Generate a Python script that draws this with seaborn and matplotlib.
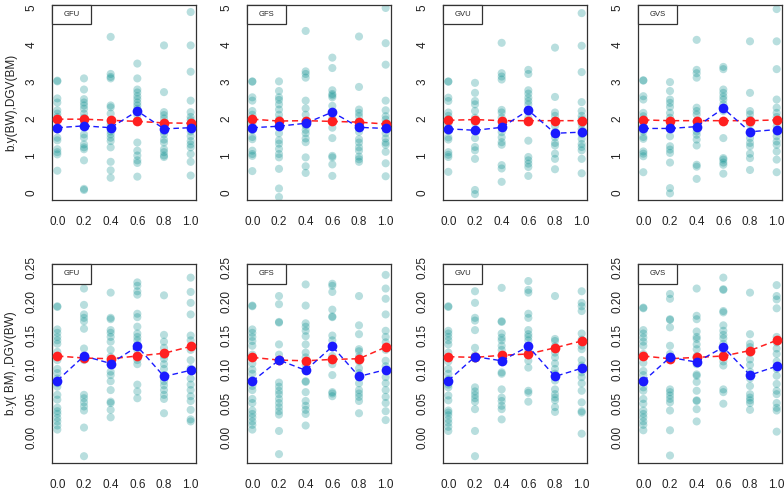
import matplotlib
matplotlib.use("Agg")
import matplotlib.pyplot as plt
import seaborn as sns
import pandas as pd

sns.set_style("white")
plt.rcParams['font.family'] = ['Liberation Sans', 'DejaVu Sans']

x_groups = [0.0, 0.2, 0.4, 0.6, 0.8, 1.0]
x_ticklabels = ["0.0", "0.2", "0.4", "0.6", "0.8", "1.0"]
panel_names = ["GFU", "GFS", "GVU", "GVS"]
ylabel_top = "b.y(BW),DGV(BM)"
ylabel_bottom = "b.y( BM) ,DGV(BW)"
yticks_top = [0, 1, 2, 3, 4, 5]
yticks_bottom = [0.00, 0.05, 0.10, 0.15, 0.20, 0.25]
ytl_top = ["0", "1", "2", "3", "4", "5"]
ytl_bottom = ["0.00", "0.05", "0.10", "0.15", "0.20", "0.25"]

# ---- top row (BW) scatter values per x group ----
gfu_top = [
    [3.02, 3.0, 2.54, 2.43, 2.22, 2.13, 2.04, 1.95, 1.70, 1.48, 1.41, 1.17, 1.09, 1.03, 0.59],
    [3.08, 2.78, 2.52, 2.43, 2.35, 2.26, 2.13, 2.02, 1.87, 1.57, 1.48, 1.30, 1.22, 1.17, 0.87, 0.10, 0.07],
    [4.20, 3.20, 3.12, 3.08, 2.35, 2.30, 2.13, 1.91, 1.83, 1.74, 1.65, 1.57, 1.48, 1.39, 1.22, 0.83, 0.60, 0.40],
    [3.48, 3.08, 2.78, 2.70, 2.60, 2.52, 2.43, 2.35, 2.26, 2.09, 1.35, 1.13, 1.00, 0.87, 0.80, 0.43],
    [3.97, 2.71, 2.17, 2.09, 2.00, 1.87, 1.65, 1.57, 1.43, 1.35, 1.17, 1.09, 1.00, 0.96],
    [4.87, 3.97, 3.26, 2.48, 2.17, 2.04, 1.96, 1.87, 1.78, 1.65, 1.52, 1.39, 1.30, 1.22, 1.04, 0.83, 0.46],
]
gfs_top = [
    [3.0, 2.99, 2.57, 2.48, 2.20, 2.10, 2.00, 1.87, 1.68, 1.50, 1.44, 1.13, 1.04, 0.99, 0.58],
    [3.00, 2.74, 2.57, 2.50, 2.38, 2.24, 2.10, 1.97, 1.78, 1.60, 1.41, 1.32, 1.18, 1.04, 0.95, 0.64, 0.11, -0.12],
    [4.36, 3.27, 3.20, 3.10, 2.48, 2.27, 2.10, 1.92, 1.81, 1.69, 1.60, 1.46, 1.36, 0.95, 0.71, 0.53],
    [3.64, 3.36, 2.76, 2.66, 2.62, 2.57, 2.34, 2.15, 2.00, 1.75, 1.47, 0.99, 0.95, 0.76, 0.45],
    [4.21, 2.85, 2.24, 2.15, 2.06, 1.92, 1.78, 1.64, 1.44, 1.35, 1.22, 1.13, 0.97, 0.90, 0.83],
    [4.98, 4.03, 3.45, 2.48, 2.22, 2.06, 1.97, 1.87, 1.73, 1.60, 1.46, 1.35, 1.29, 1.10, 0.79, 0.44],
]
gvu_top = [
    [3.0, 2.99, 2.56, 2.47, 2.16, 2.07, 1.98, 1.85, 1.67, 1.49, 1.43, 1.09, 1.02, 0.96, 0.56],
    [2.96, 2.69, 2.47, 2.38, 2.20, 2.02, 1.89, 1.67, 1.47, 1.23, 1.14, 0.91, 0.07, -0.04],
    [4.04, 3.22, 3.13, 3.05, 2.23, 2.16, 2.02, 1.89, 1.76, 1.63, 1.49, 1.36, 1.29, 0.74, 0.65, 0.29],
    [3.31, 3.20, 2.76, 2.67, 2.56, 2.47, 2.38, 2.20, 2.02, 1.40, 0.96, 0.87, 0.78, 0.69, 0.45],
    [3.91, 2.58, 2.16, 2.07, 1.94, 1.80, 1.63, 1.49, 1.34, 1.27, 1.05, 0.91, 0.63],
    [4.84, 3.96, 3.25, 2.44, 2.20, 2.07, 1.98, 1.85, 1.71, 1.58, 1.45, 1.31, 1.23, 1.14, 0.91, 0.52],
]
gvs_top = [
    [3.03, 3.02, 2.60, 2.51, 2.15, 2.06, 1.97, 1.79, 1.65, 1.50, 1.45, 1.11, 1.05, 0.98, 0.55],
    [2.98, 2.74, 2.51, 2.42, 2.31, 2.15, 2.02, 1.79, 1.52, 1.25, 1.16, 1.07, 0.81, 0.12, -0.02],
    [4.12, 3.31, 3.22, 3.10, 2.29, 2.20, 2.11, 1.93, 1.79, 1.65, 1.56, 1.43, 1.27, 0.75, 0.70, 0.37],
    [3.39, 3.33, 2.78, 2.69, 2.59, 2.51, 2.38, 2.20, 1.47, 0.93, 0.89, 0.81, 0.75, 0.51],
    [4.08, 2.69, 2.20, 2.11, 1.97, 1.84, 1.65, 1.47, 1.34, 1.25, 1.05, 0.93, 0.61],
    [4.95, 4.08, 3.33, 2.51, 2.29, 2.15, 2.04, 1.93, 1.79, 1.65, 1.52, 1.38, 1.29, 1.11, 0.89, 0.55],
]
red_top = [
    [1.98, 1.98, 1.95, 1.92, 1.88, 1.87],
    [1.98, 1.93, 1.94, 1.92, 1.90, 1.85],
    [1.95, 1.97, 1.94, 1.94, 1.94, 1.94],
    [1.96, 1.94, 1.94, 1.94, 1.94, 1.96],
]
blue_top = [
    [1.75, 1.80, 1.75, 2.20, 1.72, 1.75],
    [1.75, 1.79, 1.87, 2.17, 1.76, 1.73],
    [1.72, 1.68, 1.76, 2.22, 1.60, 1.63],
    [1.73, 1.73, 1.78, 2.27, 1.64, 1.70],
]

# ---- bottom row (BM) scatter values per x group ----
gfu_bot = [
    [0.193, 0.192, 0.159, 0.154, 0.148, 0.143, 0.138, 0.126, 0.114, 0.101, 0.095, 0.087, 0.080, 0.075, 0.063, 0.056, 0.044, 0.039, 0.035, 0.029, 0.024, 0.018, 0.012],
    [0.219, 0.195, 0.181, 0.176, 0.171, 0.160, 0.131, 0.119, 0.114, 0.063, 0.058, 0.052, 0.046, 0.040, 0.015, -0.027],
    [0.213, 0.176, 0.174, 0.158, 0.154, 0.148, 0.141, 0.129, 0.119, 0.107, 0.097, 0.092, 0.083, 0.070, 0.053, 0.051, 0.041, 0.030],
    [0.228, 0.223, 0.215, 0.210, 0.182, 0.177, 0.163, 0.153, 0.148, 0.143, 0.136, 0.129, 0.119, 0.114, 0.108, 0.078, 0.068, 0.058],
    [0.209, 0.151, 0.141, 0.132, 0.121, 0.116, 0.108, 0.101, 0.092, 0.083, 0.077, 0.070, 0.063, 0.057, 0.036],
    [0.235, 0.214, 0.198, 0.181, 0.150, 0.143, 0.129, 0.114, 0.102, 0.087, 0.078, 0.070, 0.061, 0.054, 0.041, 0.027, 0.024],
]
gfs_bot = [
    [0.194, 0.193, 0.159, 0.154, 0.148, 0.142, 0.135, 0.122, 0.109, 0.100, 0.094, 0.084, 0.076, 0.070, 0.057, 0.051, 0.040, 0.035, 0.030, 0.024, 0.019, 0.012],
    [0.208, 0.196, 0.170, 0.169, 0.137, 0.122, 0.114, 0.081, 0.075, 0.069, 0.064, 0.057, 0.051, 0.045, 0.039, 0.034, 0.010, -0.024],
    [0.225, 0.194, 0.168, 0.163, 0.157, 0.149, 0.137, 0.125, 0.118, 0.107, 0.098, 0.083, 0.082, 0.067, 0.054, 0.047, 0.041, 0.035, 0.018],
    [0.226, 0.223, 0.214, 0.188, 0.178, 0.177, 0.150, 0.143, 0.133, 0.120, 0.108, 0.092, 0.067, 0.065, 0.061],
    [0.208, 0.165, 0.152, 0.130, 0.127, 0.119, 0.112, 0.102, 0.095, 0.089, 0.080, 0.070, 0.065, 0.060, 0.054, 0.036],
    [0.239, 0.219, 0.204, 0.181, 0.157, 0.148, 0.140, 0.129, 0.113, 0.105, 0.089, 0.080, 0.070, 0.060, 0.051, 0.039, 0.026],
]
gvu_bot = [
    [0.193, 0.192, 0.157, 0.153, 0.148, 0.143, 0.137, 0.125, 0.112, 0.101, 0.094, 0.086, 0.078, 0.074, 0.062, 0.055, 0.040, 0.037, 0.033, 0.027, 0.022, 0.016, 0.010],
    [0.215, 0.198, 0.176, 0.172, 0.158, 0.132, 0.121, 0.116, 0.074, 0.068, 0.063, 0.058, 0.053, 0.042, 0.010, -0.027],
    [0.220, 0.171, 0.170, 0.153, 0.147, 0.143, 0.135, 0.129, 0.121, 0.111, 0.096, 0.094, 0.071, 0.059, 0.054, 0.047, 0.042, 0.027],
    [0.230, 0.217, 0.213, 0.182, 0.176, 0.158, 0.152, 0.148, 0.143, 0.135, 0.127, 0.121, 0.113, 0.103, 0.069, 0.066, 0.053],
    [0.208, 0.145, 0.142, 0.134, 0.125, 0.118, 0.109, 0.101, 0.094, 0.084, 0.071, 0.064, 0.059, 0.055, 0.045, 0.038],
    [0.215, 0.198, 0.193, 0.186, 0.153, 0.144, 0.135, 0.130, 0.114, 0.106, 0.096, 0.089, 0.080, 0.069, 0.052, 0.039, 0.037, 0.006],
]
gvs_bot = [
    [0.191, 0.190, 0.158, 0.153, 0.147, 0.141, 0.135, 0.123, 0.110, 0.098, 0.092, 0.081, 0.074, 0.069, 0.057, 0.050, 0.040, 0.035, 0.030, 0.024, 0.019, 0.011],
    [0.211, 0.204, 0.174, 0.173, 0.162, 0.135, 0.123, 0.115, 0.071, 0.067, 0.062, 0.057, 0.052, 0.040, 0.011, -0.026],
    [0.219, 0.179, 0.174, 0.156, 0.148, 0.145, 0.137, 0.130, 0.120, 0.108, 0.093, 0.091, 0.082, 0.069, 0.055, 0.054, 0.042, 0.024],
    [0.235, 0.218, 0.217, 0.186, 0.184, 0.165, 0.157, 0.151, 0.146, 0.138, 0.128, 0.120, 0.112, 0.106, 0.071, 0.067, 0.050],
    [0.213, 0.152, 0.138, 0.133, 0.125, 0.115, 0.107, 0.097, 0.087, 0.076, 0.064, 0.059, 0.055, 0.051, 0.041],
    [0.224, 0.208, 0.203, 0.190, 0.148, 0.140, 0.131, 0.123, 0.112, 0.101, 0.091, 0.079, 0.069, 0.064, 0.051, 0.044, 0.040, 0.009],
]
red_bot = [
    [0.120, 0.117, 0.116, 0.120, 0.124, 0.134],
    [0.118, 0.114, 0.113, 0.115, 0.116, 0.133],
    [0.119, 0.118, 0.121, 0.123, 0.132, 0.142],
    [0.120, 0.116, 0.118, 0.120, 0.128, 0.143],
]
blue_bot = [
    [0.084, 0.120, 0.109, 0.134, 0.090, 0.099],
    [0.083, 0.114, 0.099, 0.134, 0.090, 0.100],
    [0.084, 0.119, 0.113, 0.134, 0.090, 0.102],
    [0.083, 0.118, 0.111, 0.133, 0.092, 0.105],
]

top_sets = [gfu_top, gfs_top, gvu_top, gvs_top]
bot_sets = [gfu_bot, gfs_bot, gvu_bot, gvs_bot]

W, H = 784, 490
fig = plt.figure(figsize=(W / 100, H / 100), dpi=100)

lefts_px = [52, 247, 443, 638]
width_px = 144
rows = [
    dict(top=5, bottom=200, sets=top_sets, red=red_top, blue=blue_top,
         yticks=yticks_top, ytl=ytl_top, ylab=ylabel_top, ylim=(-0.2, 5.06)),
    dict(top=264, bottom=463, sets=bot_sets, red=red_bot, blue=blue_bot,
         yticks=yticks_bottom, ytl=ytl_bottom, ylab=ylabel_bottom, ylim=(-0.037, 0.255)),
]

point_color = "#008B8B"
text_color = "#222222"

for r, row in enumerate(rows):
    for c in range(4):
        ax = fig.add_axes([lefts_px[c] / W, (H - row["bottom"]) / H,
                           width_px / W, (row["bottom"] - row["top"]) / H])
        groups = row["sets"][c]
        xs, ys = [], []
        for gx, vals in zip(x_groups, groups):
            xs += [gx] * len(vals)
            ys += vals
        df = pd.DataFrame({"x": xs, "y": ys})
        sns.scatterplot(data=df, x="x", y="y", ax=ax, color=point_color, alpha=0.28,
                        s=34, edgecolor="none", zorder=2)
        dred = pd.DataFrame({"x": x_groups, "y": row["red"][c]})
        dblue = pd.DataFrame({"x": x_groups, "y": row["blue"][c]})
        sns.lineplot(data=dred, x="x", y="y", ax=ax, color="#ff2020", lw=1.1,
                     marker="o", markersize=7, markeredgecolor="none",
                     sort=False, estimator=None, zorder=3, dashes=False)
        sns.lineplot(data=dblue, x="x", y="y", ax=ax, color="#1a1aff", lw=1.0,
                     marker="o", markersize=7, markeredgecolor="none",
                     sort=False, estimator=None, zorder=4, dashes=False)
        for ln in ax.lines:
            ln.set_dashes([4, 2.5])
        ax.set_xlim(-0.04, 1.04)
        ax.set_ylim(*row["ylim"])
        ax.set_xticks(x_groups)
        ax.set_xticklabels(x_ticklabels)
        ax.set_yticks(row["yticks"])
        ax.set_yticklabels(row["ytl"], rotation=90, va="center")
        ax.tick_params(axis="both", which="both", direction="out", length=4.5, width=0.9,
                       colors="#333333", labelsize=8.5, labelcolor=text_color)
        ax.tick_params(axis="x", pad=7)
        ax.tick_params(axis="y", pad=6)
        ax.set_xlabel("")
        if c == 0:
            ax.set_ylabel(row["ylab"], fontsize=8.5, color=text_color, labelpad=6)
        else:
            ax.set_ylabel("")
        for sp in ax.spines.values():
            sp.set_visible(True)
            sp.set_color("#333333")
            sp.set_linewidth(0.9)
        ax.text(0.135, 0.95, panel_names[c], transform=ax.transAxes, fontsize=5.5,
                ha="center", va="center", color=text_color,
                bbox=dict(boxstyle="square,pad=0", facecolor="white", edgecolor="none"),
                zorder=6)
        ax.add_patch(plt.Rectangle((0, 0.9), 0.27, 0.1, transform=ax.transAxes,
                                   facecolor="white", edgecolor="#333333", lw=0.9,
                                   zorder=5, clip_on=False))

fig.savefig("out.png", dpi=100)
